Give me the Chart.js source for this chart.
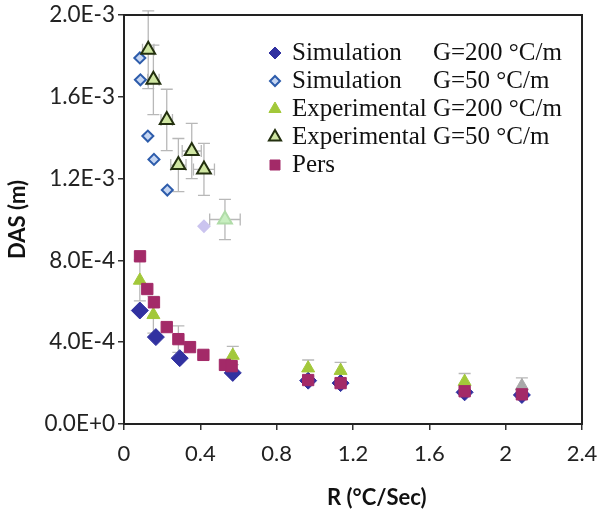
<!DOCTYPE html>
<html><head><meta charset="utf-8">
<script src="https://cdn.jsdelivr.net/npm/chart.js@4/dist/chart.umd.min.js"></script>
<style>html,body{margin:0;padding:0;background:#fff}canvas{display:block}</style>
</head><body>
<canvas id="c" width="601" height="513"></canvas>
<script>
// ---- data ----
const xTickLabels = ['0','0.4','0.8','1.2','1.6','2','2.4'];
const yTickLabels = ['0.0E+0','4.0E-4','8.0E-4','1.2E-3','1.6E-3','2.0E-3'];
const seriesNames = ['Simulation','Simulation','Experimental','Experimental','Pers'];
const seriesG = ['G=200 \u00B0C/m','G=50 \u00B0C/m','G=200 \u00B0C/m','G=50 \u00B0C/m',''];
const xTitle = 'R (\u00B0C/Sec)';
const yTitle = 'DAS (m)';

const simG200R   = [0.083, 0.167, 0.292, 0.570, 0.965, 1.135, 1.785, 2.085];
const simG200DAS = [5.55e-4, 4.25e-4, 3.22e-4, 2.50e-4, 2.12e-4, 2.00e-4, 1.55e-4, 1.42e-4];

const simG50R   = [0.083, 0.086, 0.125, 0.157, 0.227, 0.419];
const simG50DAS = [1.79e-3, 1.683e-3, 1.408e-3, 1.294e-3, 1.144e-3, 0.967e-3];

const expG200R    = [0.083, 0.154, 0.570, 0.965, 1.135, 1.785, 2.085];
const expG200DAS  = [7.02e-4, 5.34e-4, 3.35e-4, 2.73e-4, 2.61e-4, 2.07e-4, 1.86e-4];
const expG200Err  = [1.0e-4, 0.9e-4, 0.45e-4, 0.4e-4, 0.4e-4, 0.4e-4, 0.4e-4];

const expG50R     = [0.127, 0.154, 0.224, 0.285, 0.355, 0.419, 0.529];
const expG50DAS   = [1.83e-3, 1.683e-3, 1.487e-3, 1.266e-3, 1.335e-3, 1.245e-3, 1.0e-3];
const expG50Err   = [1.9e-4, 1.7e-4, 1.5e-4, 1.3e-4, 1.35e-4, 1.27e-4, 0.98e-4];
const expG50RErr  = [0.03, 0.03, 0.03, 0.04, 0.05, 0.055, 0.08];

const persR   = [0.084, 0.122, 0.157, 0.224, 0.285, 0.346, 0.416, 0.529, 0.564, 0.965, 1.135, 1.785, 2.085];
const persDAS = [8.2e-4, 6.6e-4, 5.95e-4, 4.74e-4, 4.15e-4, 3.76e-4, 3.38e-4, 2.89e-4, 2.83e-4, 2.15e-4, 2.0e-4, 1.6e-4, 1.45e-4];
const persErr = [0, 0, 0, 0, 0.65e-4, 0, 0, 0, 0, 0, 0, 0, 0];

const pts = (xs, ys) => xs.map((x, i) => ({x: x, y: ys[i]}));
const perPoint = (n, normal, lastColor) => Array.from({length: n}, (_, i) => i === n - 1 && lastColor ? lastColor : normal);

const datasets = [
  { label: seriesNames[0] + ' ' + seriesG[0], data: pts(simG200R, simG200DAS), order: 5,
    pointStyle: 'rectRot', pointRadius: 8.5, backgroundColor: '#3131a0', borderColor: '#3131a0', borderWidth: 1,
    legendStyle: {shape: 'diamond', r: 6, fill: '#3131a0', stroke: '#3131a0', lw: 1} },
  { label: seriesNames[1] + ' ' + seriesG[1], data: pts(simG50R, simG50DAS), order: 4,
    pointStyle: 'rectRot', pointRadius: 5.5,
    backgroundColor: perPoint(simG50R.length, '#c6d6f2', '#cbc4ef'),
    borderColor: perPoint(simG50R.length, '#2d5cab', '#cbc4ef'), borderWidth: 2,
    legendStyle: {shape: 'diamond', r: 5, fill: '#c6d6f2', stroke: '#2d5cab', lw: 2} },
  { label: seriesNames[2] + ' ' + seriesG[2], data: pts(expG200R, expG200DAS), order: 2, yErr: expG200Err,
    pointStyle: 'triangle', pointRadius: 7.5,
    backgroundColor: perPoint(expG200R.length, '#a2c83a', '#a8a8a8'),
    borderColor: perPoint(expG200R.length, '#a2c83a', '#a8a8a8'), borderWidth: 1,
    legendStyle: {shape: 'triangle', r: 7, fill: '#a2c83a', stroke: '#a2c83a', lw: 1} },
  { label: seriesNames[3] + ' ' + seriesG[3], data: pts(expG50R, expG50DAS), order: 3, yErr: expG50Err, xErr: expG50RErr,
    pointStyle: 'triangle', pointRadius: 8,
    backgroundColor: perPoint(expG50R.length, '#cfe6a2', '#c8efc0'),
    borderColor: perPoint(expG50R.length, '#23300f', '#b0dca8'), borderWidth: 2,
    legendStyle: {shape: 'triangle', r: 7, fill: '#cfe6a2', stroke: '#23300f', lw: 2} },
  { label: seriesNames[4], data: pts(persR, persDAS), order: 1, yErr: persErr,
    pointStyle: 'rect', pointRadius: 8, backgroundColor: '#a32a68', borderColor: '#a32a68', borderWidth: 1,
    legendStyle: {shape: 'square', r: 5, fill: '#a32a68', stroke: '#a32a68', lw: 1} }
];

const errorBars = {
  id: 'errorBars',
  beforeDatasetsDraw(chart) {
    const ctx = chart.ctx, xs = chart.scales.x, ys = chart.scales.y;
    ctx.save();
    ctx.strokeStyle = '#b8b8b8';
    ctx.lineWidth = 1.3;
    chart.data.datasets.forEach(ds => {
      ds.data.forEach((p, i) => {
        const px = xs.getPixelForValue(p.x), py = ys.getPixelForValue(p.y);
        const cap = 6;
        if (ds.yErr && ds.yErr[i] > 0) {
          const t = ys.getPixelForValue(p.y + ds.yErr[i]), b = ys.getPixelForValue(p.y - ds.yErr[i]);
          ctx.beginPath();
          ctx.moveTo(px, t); ctx.lineTo(px, b);
          ctx.moveTo(px - cap, t); ctx.lineTo(px + cap, t);
          ctx.moveTo(px - cap, b); ctx.lineTo(px + cap, b);
          ctx.stroke();
        }
        if (ds.xErr && ds.xErr[i] > 0) {
          const l = xs.getPixelForValue(p.x - ds.xErr[i]), r = xs.getPixelForValue(p.x + ds.xErr[i]);
          ctx.beginPath();
          ctx.moveTo(l, py); ctx.lineTo(r, py);
          ctx.moveTo(l, py - cap); ctx.lineTo(l, py + cap);
          ctx.moveTo(r, py - cap); ctx.lineTo(r, py + cap);
          ctx.stroke();
        }
      });
    });
    ctx.restore();
  }
};

const frame = {
  id: 'frame',
  afterDraw(chart) {
    const a = chart.chartArea, ctx = chart.ctx;
    ctx.save();
    ctx.strokeStyle = '#222';
    ctx.lineWidth = 2;
    ctx.strokeRect(a.left, a.top, a.right - a.left, a.bottom - a.top);
    // x axis title
    ctx.fillStyle = '#111';
    ctx.font = 'bold 22px Lato';
    ctx.textAlign = 'center';
    ctx.textBaseline = 'middle';
    ctx.fillText(xTitle, a.left + 0.552 * (a.right - a.left), chart.height - 15);
    ctx.restore();
  }
};

function drawShape(ctx, s, x, y) {
  ctx.beginPath();
  if (s.shape === 'diamond') {
    ctx.moveTo(x, y - s.r); ctx.lineTo(x + s.r, y); ctx.lineTo(x, y + s.r); ctx.lineTo(x - s.r, y);
  } else if (s.shape === 'triangle') {
    const h = s.r;
    ctx.moveTo(x, y - h); ctx.lineTo(x + h * 0.866, y + h * 0.5); ctx.lineTo(x - h * 0.866, y + h * 0.5);
  } else {
    ctx.rect(x - s.r, y - s.r, 2 * s.r, 2 * s.r);
  }
  ctx.closePath();
  ctx.fillStyle = s.fill; ctx.fill();
  ctx.strokeStyle = s.stroke; ctx.lineWidth = s.lw; ctx.stroke();
}

const legendInside = {
  id: 'legendInside',
  afterDraw(chart) {
    const a = chart.chartArea, ctx = chart.ctx;
    ctx.save();
    ctx.font = '25px "Liberation Serif"';
    ctx.fillStyle = '#111';
    ctx.textBaseline = 'middle';
    ctx.textAlign = 'left';
    const mx = a.left + 151, y0 = a.top + 38, step = 28;
    const nameX = mx + 17;
    const gX = nameX + Math.max(...seriesNames.map(n => ctx.measureText(n + ' ').width));
    chart.data.datasets.forEach((ds, i) => {
      const y = y0 + i * step;
      drawShape(ctx, ds.legendStyle, mx, y);
      ctx.fillStyle = '#111';
      ctx.fillText(seriesNames[i], nameX, y);
      if (seriesG[i]) ctx.fillText(seriesG[i], gX, y);
    });
    ctx.restore();
  }
};

new Chart(document.getElementById('c'), {
  type: 'scatter',
  data: { datasets: datasets },
  options: {
    responsive: false,
    animation: false,
    layout: { padding: { top: 15, right: 19, left: 0, bottom: 0 } },
    plugins: { legend: { display: false }, tooltip: { enabled: false } },
    scales: {
      x: {
        type: 'linear', min: 0, max: 2.4,
        afterFit(s) { s.height = 89; s.paddingLeft = 0; s.paddingRight = 0; },
        border: { display: false },
        grid: { drawOnChartArea: false, drawTicks: true, tickLength: 6, color: '#333', lineWidth: 1.5 },
        ticks: { stepSize: 0.4, padding: 11, color: '#222', font: { family: 'Lato', size: 22 },
                 callback: (v, i) => xTickLabels[i] },
        title: { display: false }
      },
      y: {
        type: 'linear', min: 0, max: 0.002,
        afterFit(s) { s.width = 124; s.paddingTop = 0; s.paddingBottom = 0; },
        border: { display: false },
        grid: { drawOnChartArea: false, drawTicks: true, tickLength: 6, color: '#333', lineWidth: 1.5 },
        ticks: { stepSize: 0.0004, padding: 3, color: '#222', font: { family: 'Lato', size: 22.5 },
                 callback: (v, i) => yTickLabels[i] },
        title: { display: true, text: yTitle, color: '#111', font: { family: 'Lato', size: 22, weight: 'bold' },
                 padding: { top: 5, bottom: 0 } }
      }
    }
  },
  plugins: [errorBars, frame, legendInside]
});
</script>
</body></html>
